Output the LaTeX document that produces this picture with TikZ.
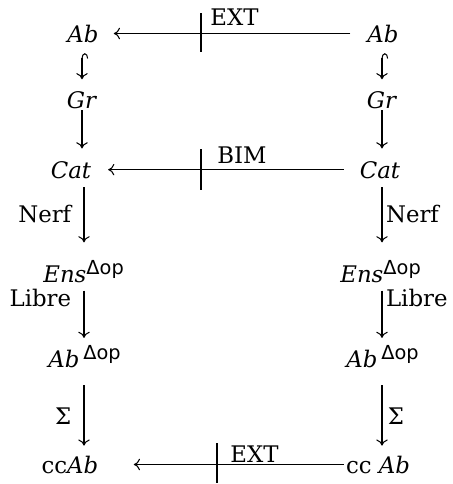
\documentclass[tikz,border=0pt]{standalone}
\usepackage{fontspec}
\setmainfont{DejaVu Serif}
\newfontfamily\supfont{DejaVu Sans}
\usetikzlibrary{arrows.meta, positioning}
\tikzset{
  obj/.style={anchor=base, inner sep=0pt, font=\fontsize{13}{15}\selectfont},
  lbl/.style={inner sep=0pt, font=\fontsize{13}{15}\selectfont},
  arrow/.style={line width=0.6pt, -{To[length=3.5pt,width=6.5pt]}},
  hookarrow/.style={line width=0.6pt, {Hooks[right,length=3pt,width=7pt]}-{To[length=3.5pt,width=6.5pt]}},
  cut/.style={line width=0.8pt}
}
\newcommand{\dop}{\textsuperscript{\supfont\fontsize{11}{13}\selectfont Δop}}

\begin{document}
\begin{tikzpicture}[x=0.02cm, y=-0.02cm]
        \useasboundingbox (0,0) rectangle (453,484);

        % --- objets ---
        \node (abL) [obj] at (83,42) {\textit{Ab}};
        \node (abR) [obj] at (383,42) {\textit{Ab}};
        \node (grL) [obj] at (82,108) {\textit{Gr}};
        \node (grR) [obj] at (382,108) {\textit{Gr}};
        \node (catL) [obj] at (71,178) {\textit{Cat}};
        \node (catR) [obj] at (380,178) {\textit{Cat}};
        \node (ensL) [obj] at (84,282) {\textit{Ens}\dop};
        \node (ensR) [obj] at (381,282) {\textit{Ens}\dop};
        \node (abopL) [obj] at (85,367) {\textit{Ab}\,\dop};
        \node (abopR) [obj] at (383,367) {\textit{Ab}\,\dop};
        \node (ccL) [obj] at (70,473) {cc\textit{Ab}};
        \node (ccR) [obj] at (378,473) {cc \textit{Ab}};

        % --- barres ---
        \coordinate (cutA) at (201,33);
        \coordinate (cutB) at (201,172);
        \coordinate (cutC) at (217,465);
        \node (extA) [lbl, anchor=base west] at (210,25) {EXT};
        \node (bim) [lbl, anchor=base west] at (217,163) {BIM};
        \node (extC) [lbl, anchor=base west] at (230,462) {EXT};

        % --- fleches horizontales ---
        \draw [arrow, shorten <=9.5pt, shorten >=8.5pt] (abR.west) -- (abL.east);
        \draw [arrow, shorten <=9pt, shorten >=9.5pt] (catR.west) -- (catL.east);
        \draw [arrow, shorten <=1pt, shorten >=20pt] (ccR.west) -- (ccL.east);
        \draw [cut] (cutA) ++(0,-20) -- ++(0,39);
        \draw [cut] (cutB) ++(0,-23) -- ++(0,41);
        \draw [cut] (cutC) ++(0,-22) -- ++(0,40);

        % --- colonne gauche ---
        \draw [hookarrow, shorten <=6pt, shorten >=6.5pt] (abL.south -| grL) -- (grL.north);
        \draw [arrow, shorten <=1pt, shorten >=7pt] (grL.south) -- (grL.south |- catL.north);
        \draw [arrow, shorten <=5pt, shorten >=10pt] (catL.south -| ensL) -- node[lbl, pos=0.43, left=7pt] (nerfL) {Nerf} (ensL.north);
        \draw [arrow, shorten <=4.5pt, shorten >=4pt] (ensL.south) -- node[lbl, pos=0.25, left=7pt] (libreL) {Libre} (abopL.north -| ensL);
        \draw [arrow, shorten <=10pt, shorten >=5.5pt] (abopL.south -| ensL) -- node[lbl, pos=0.55, left=7pt] (sigmaL) {Σ} (ccL.north -| ensL);

        % --- colonne droite ---
        \draw [hookarrow, shorten <=6pt, shorten >=6.5pt] (abR.south -| grR) -- (grR.north);
        \draw [arrow, shorten <=1pt, shorten >=7pt] (grR.south) -- (grR.south |- catR.north);
        \draw [arrow, shorten <=5pt, shorten >=10pt] (catR.south -| grR) -- node[lbl, pos=0.43, right=2pt] (nerfR) {Nerf} (ensR.north -| grR);
        \draw [arrow, shorten <=4.5pt, shorten >=4pt] (ensR.south -| grR) -- node[lbl, pos=0.25, right=2pt] (libreR) {Libre} (abopR.north -| grR);
        \draw [arrow, shorten <=10pt, shorten >=5.5pt] (abopR.south -| grR) -- node[lbl, pos=0.55, right=3pt] (sigmaR) {Σ} (ccR.north -| grR);

\end{tikzpicture}
\end{document}
